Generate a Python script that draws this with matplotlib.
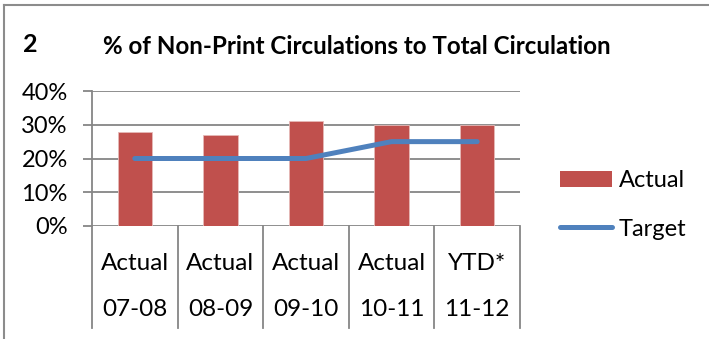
import matplotlib
matplotlib.use('Agg')
import matplotlib.pyplot as plt
from matplotlib.lines import Line2D
from matplotlib.patches import Patch
import matplotlib.transforms as mtransforms

# data
status = ['Actual', 'Actual', 'Actual', 'Actual', 'YTD*']
years = ['07-08', '08-09', '09-10', '10-11', '11-12']
actual = [28, 27, 31, 30, 30]
target = [20, 20, 20, 25, 25]
yticks = [0, 10, 20, 30, 40]

plt.rcParams['font.family'] = ['Lato', 'DejaVu Sans']

W, H = 709, 339
fig = plt.figure(figsize=(W / 100, H / 100), dpi=100)
fig.patch.set_facecolor('white')

# plot area in pixels: x 92..520, y 91..226
ax = fig.add_axes([92 / W, 1 - 226 / H, (520 - 92) / W, (226 - 91) / H])

x = list(range(len(years)))
ax.bar(x, actual, width=0.4, color='#C0504D', edgecolor='#E6B9B8', linewidth=0.6, zorder=3)
ax.plot(x, target, color='#4F81BD', linewidth=3.6, solid_capstyle='round', zorder=4)

ax.set_xlim(-0.5, len(years) - 0.5)
ax.set_ylim(0, 40)
ax.set_yticks(yticks)
ax.set_yticklabels([f'{v}%' for v in yticks], fontsize=17)
ax.yaxis.grid(True, color='#868686', linewidth=1.3, zorder=0)
ax.tick_params(axis='y', length=6.5, width=1.3, color='#868686', pad=11)
ax.set_xticks([])
for s in ['top', 'right', 'bottom']:
    ax.spines[s].set_visible(False)
ax.spines['left'].set_color('#868686')
ax.spines['left'].set_linewidth(1.3)

# category separators below the axis (multi-level label table)
trans = mtransforms.blended_transform_factory(ax.transData, ax.transAxes)
depth = -(328 - 226) / (226 - 91)
for i in range(len(years) + 1):
    ax.plot([i - 0.5, i - 0.5], [0, depth], color='#868686', linewidth=1.3,
            transform=trans, clip_on=False)

for i in x:
    ax.text(i, -(264 - 226) / 135, status[i], transform=trans, ha='center', va='center', fontsize=17.5)
    ax.text(i, -(309 - 226) / 135, years[i], transform=trans, ha='center', va='center', fontsize=17.5)

# titles
fig.text(30 / W, 1 - 45 / H, '2', fontsize=18, fontweight='bold', ha='center', va='center')
fig.text(103 / W, 1 - 46 / H, '% of Non-Print Circulations to Total Circulation',
         fontsize=17.4, fontweight='bold', ha='left', va='center')

# legend
handles = [Patch(facecolor='#C0504D', edgecolor='none'),
           Line2D([0], [0], color='#4F81BD', linewidth=3.6, solid_capstyle='round')]
fig.legend(handles, ['Actual', 'Target'], loc='center left',
           bbox_to_anchor=(560 / W, 1 - 205 / H), frameon=False, fontsize=17,
           handlelength=2.2, handleheight=0.7, handletextpad=0.3, labelspacing=1.15,
           borderpad=0, borderaxespad=0)

# frame lines of the original cell
fig.add_artist(Line2D([4 / W, 1], [1 - 5 / H, 1 - 5 / H], color='#8C8C8C', linewidth=1.5))
fig.add_artist(Line2D([4 / W, 4 / W], [0, 1 - 5 / H], color='#8C8C8C', linewidth=1.5))

fig.savefig('out.png', dpi=100)
